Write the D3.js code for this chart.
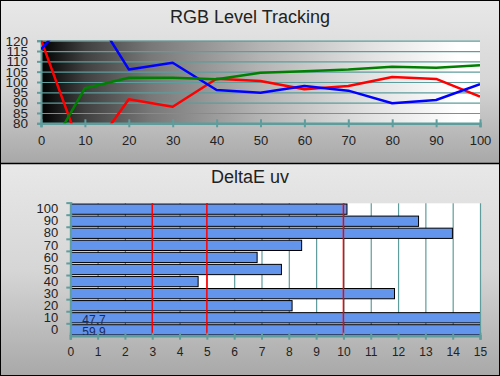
<!DOCTYPE html>
<html>
<head>
<meta charset="utf-8">
<script src="https://cdn.jsdelivr.net/npm/d3@7/dist/d3.min.js"></script>
<style>
  html, body { margin: 0; padding: 0; background: #fff; }
  svg { display: block; font-family: "Liberation Sans", Arial, sans-serif; }
</style>
</head>
<body>
<div id="chart"></div>
<script>
// RGB tracking (top chart)
const levels = [0, 10, 20, 30, 40, 50, 60, 70, 80, 90, 100];
const redVals = [120.5, 62, 91.6, 88.0, 101.6, 100.5, 96.5, 98.1, 102.4, 101.5, 92.9];
const greenVals = [60, 97.0, 102.1, 102.1, 101.3, 104.5, 105.2, 106.0, 107.4, 106.9, 108.1];
const blueVals = [115.8, 140, 106.1, 109.3, 96.1, 94.8, 98.1, 95.8, 89.7, 91.3, 98.9];
const rgbYTicks = [80, 85, 90, 95, 100, 105, 110, 115, 120];

// DeltaE uv (bottom chart)
const deCats = ["100", "90", "80", "70", "60", "50", "40", "30", "20", "10", "0"];
const deVals = [10.13, 12.75, 13.99, 8.47, 6.84, 7.73, 4.68, 11.87, 8.12, 47.7, 59.9];
const deXTicks = d3.range(0, 16);
const deRefLines = [3, 5, 10];

const W = 500, H = 376;
const teal = "#5f9c9c";

const svg = d3.select("#chart").append("svg")
  .attr("width", W).attr("height", H);

const defs = svg.append("defs");

const panelGrad = defs.append("linearGradient")
  .attr("id", "panel").attr("x1", 0).attr("y1", 0).attr("x2", 0).attr("y2", 1);
panelGrad.append("stop").attr("offset", 0).attr("stop-color", "#e8e8e8");
panelGrad.append("stop").attr("offset", 0.5).attr("stop-color", "#d6d6d6");
panelGrad.append("stop").attr("offset", 1).attr("stop-color", "#a8a8a8");

const plotGrad = defs.append("linearGradient")
  .attr("id", "plotbg").attr("x1", 0).attr("y1", 0).attr("x2", 1).attr("y2", 0);
plotGrad.append("stop").attr("offset", 0).attr("stop-color", "#000");
plotGrad.append("stop").attr("offset", 0.1).attr("stop-color", "#404040");
plotGrad.append("stop").attr("offset", 0.25).attr("stop-color", "#787878");
plotGrad.append("stop").attr("offset", 0.5).attr("stop-color", "#b4b4b4");
plotGrad.append("stop").attr("offset", 0.75).attr("stop-color", "#e2e2e2");
plotGrad.append("stop").attr("offset", 0.95).attr("stop-color", "#fff");

// panels
svg.append("rect").attr("x", 0).attr("y", 0).attr("width", W).attr("height", 163)
  .attr("fill", "url(#panel)");
svg.append("rect").attr("x", 0).attr("y", 164).attr("width", W).attr("height", H - 164)
  .attr("fill", "url(#panel)");
svg.append("line").attr("x1", 0).attr("x2", W).attr("y1", 163.5).attr("y2", 163.5)
  .attr("stroke", "#000").attr("stroke-width", 1.5);
svg.append("rect").attr("x", 0.5).attr("y", 0.5).attr("width", W - 1).attr("height", H - 1)
  .attr("fill", "none").attr("stroke", "#000");

// ---------- top chart ----------
const x1 = d3.scaleLinear().domain([0, 100]).range([41, 480]);
const y1 = d3.scaleLinear().domain([80, 120]).range([123.3, 40.7]);

svg.append("text").attr("x", 250).attr("y", 23).attr("text-anchor", "middle")
  .attr("font-size", 18).attr("fill", "#222").text("RGB Level Tracking");

svg.append("rect").attr("x", x1(0)).attr("y", y1(120))
  .attr("width", x1(100) - x1(0)).attr("height", y1(80) - y1(120))
  .attr("fill", "url(#plotbg)");

defs.append("clipPath").attr("id", "clipTop").append("rect")
  .attr("x", x1(0)).attr("y", y1(120))
  .attr("width", x1(100) - x1(0)).attr("height", y1(80) - y1(120));

// grid
svg.append("g")
  .attr("transform", `translate(${x1(0)},0)`)
  .call(d3.axisLeft(y1).tickValues(rgbYTicks).tickSize(-(x1(100) - x1(0))).tickFormat(""))
  .call(g => g.select(".domain").remove())
  .call(g => g.selectAll("line").attr("stroke", teal).attr("stroke-width", 1.2));

// y axis
svg.append("g")
  .attr("transform", `translate(${x1(0)},0)`)
  .call(d3.axisLeft(y1).tickValues(rgbYTicks).tickSize(4).tickPadding(1))
  .call(g => g.select(".domain").attr("stroke", teal).attr("stroke-width", 2))
  .call(g => g.selectAll("line").attr("stroke", teal).attr("stroke-width", 2))
  .call(g => g.selectAll("text").attr("font-size", 13.5).attr("fill", "#222")
    .attr("font-family", "Liberation Sans, Arial, sans-serif").attr("x", -13));

// x axis
svg.append("g")
  .attr("transform", `translate(0,${y1(80)})`)
  .call(d3.axisBottom(x1).tickValues(levels).tickSize(4).tickPadding(8))
  .call(g => g.select(".domain").attr("stroke", teal).attr("stroke-width", 2.5))
  .call(g => g.selectAll("line").attr("stroke", teal).attr("stroke-width", 2).attr("y1", -4))
  .call(g => g.selectAll("text").attr("font-size", 13).attr("fill", "#222")
    .attr("font-family", "Liberation Sans, Arial, sans-serif"));

const line = d3.line().x((d, i) => x1(levels[i])).y(d => y1(d));
const series = [
  { vals: redVals, color: "#ff0000" },
  { vals: blueVals, color: "#0000ff" },
  { vals: greenVals, color: "#008000" }
];
const lines = svg.append("g").attr("clip-path", "url(#clipTop)");
series.forEach(s => {
  lines.append("path").datum(s.vals).attr("d", line)
    .attr("fill", "none").attr("stroke", s.color).attr("stroke-width", 2.5)
    .attr("stroke-linejoin", "round");
});

// ---------- bottom chart ----------
const x2 = d3.scaleLinear().domain([0, 15]).range([70.3, 480]);
const y2 = d3.scaleBand().domain(deCats).range([203.3, 335.7])
  .paddingInner(0.15).paddingOuter(0.06);

svg.append("text").attr("x", 250).attr("y", 183).attr("text-anchor", "middle")
  .attr("font-size", 18).attr("fill", "#222").text("DeltaE uv");

svg.append("rect").attr("x", x2(0)).attr("y", 203.3)
  .attr("width", x2(15) - x2(0)).attr("height", 335.7 - 203.3).attr("fill", "#fff");

svg.append("g")
  .attr("transform", "translate(0,203.3)")
  .call(d3.axisBottom(x2).tickValues(deXTicks).tickSize(335.7 - 203.3).tickFormat(""))
  .call(g => g.select(".domain").remove())
  .call(g => g.selectAll("line").attr("stroke", teal).attr("stroke-width", 1.2));

defs.append("clipPath").attr("id", "clipBot").append("rect")
  .attr("x", x2(0)).attr("y", 200).attr("width", x2(15) - x2(0)).attr("height", 140);

svg.append("g").attr("clip-path", "url(#clipBot)")
  .selectAll("rect").data(deVals).join("rect")
  .attr("x", x2(0)).attr("y", (d, i) => y2(deCats[i]))
  .attr("width", d => x2(Math.min(d, 15.2)) - x2(0))
  .attr("height", y2.bandwidth())
  .attr("fill", "#6495ed").attr("stroke", "#000").attr("stroke-width", 1);

svg.append("g").selectAll("line").data(deRefLines).join("line")
  .attr("x1", d => x2(d)).attr("x2", d => x2(d))
  .attr("y1", 203.3).attr("y2", 335.7)
  .attr("stroke", "#ff0000").attr("stroke-width", 1.5);

// value labels for bars beyond the axis
svg.append("g").selectAll("text").data(deVals.map((v, i) => ({ v, c: deCats[i] })).filter(d => d.v > 15))
  .join("text")
  .attr("x", x2(0) + 12).attr("y", d => y2(d.c) + y2.bandwidth() + 1)
  .attr("font-size", 12).attr("fill", "#1c2b55")
  .text(d => d.v.toFixed(1));

// y axis bottom chart
svg.append("g")
  .attr("transform", `translate(${x2(0)},0)`)
  .call(d3.axisLeft(y2).tickSize(0).tickPadding(12))
  .call(g => g.select(".domain").attr("stroke", teal).attr("stroke-width", 2))
  .call(g => g.selectAll("text").attr("font-size", 13).attr("fill", "#222")
    .attr("font-family", "Liberation Sans, Arial, sans-serif"));

// band boundary ticks
const bandEdges = deCats.map(c => y2(c) - y2.step() * y2.paddingInner() / 2);
svg.append("g").selectAll("line").data(bandEdges).join("line")
  .attr("x1", x2(0) - 4).attr("x2", x2(0) + 2).attr("y1", d => d).attr("y2", d => d)
  .attr("stroke", teal).attr("stroke-width", 2);

svg.append("g")
  .attr("transform", "translate(0,335.7)")
  .call(d3.axisBottom(x2).tickValues(deXTicks).tickSize(4).tickPadding(8))
  .call(g => g.select(".domain").attr("stroke", teal).attr("stroke-width", 2.5))
  .call(g => g.selectAll("line").attr("stroke", teal).attr("stroke-width", 2).attr("y1", -3))
  .call(g => g.selectAll("text").attr("font-size", 12).attr("fill", "#222")
    .attr("font-family", "Liberation Sans, Arial, sans-serif"));
</script>
</body>
</html>
